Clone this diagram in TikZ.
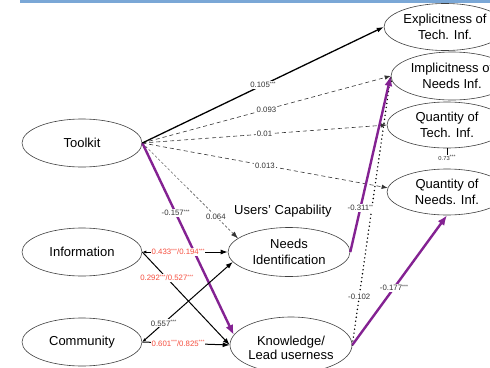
\documentclass[tikz,border=0pt]{standalone}
\usepackage{fontspec}
\setmainfont{Liberation Sans}
\usetikzlibrary{arrows.meta,shapes.geometric}
\definecolor{barblue}{RGB}{122,167,214}
\definecolor{pathpurple}{RGB}{132,34,146}
\definecolor{estred}{RGB}{246,78,62}
% significance stars, set small and raised
\newcommand\sigmark[1]{\raisebox{0.32em}{\fontsize{5}{5}\selectfont #1}}

\begin{document}
\begin{tikzpicture}[x=1pt,y=-1pt,
  latent/.style={ellipse, draw=black!75, line width=0.6pt, inner sep=0pt, align=center,
    font=\fontsize{13}{15.5}\selectfont, minimum width=120pt, minimum height=48pt},
  est/.style={fill=white, inner sep=0.8pt, font=\fontsize{7.8}{9}\selectfont, text=black!80},
  estr/.style={est, text=estred},
  solidpath/.style={line width=1pt, -{Latex[length=7pt,width=5pt]}},
  bothpath/.style={line width=1pt, {Latex[length=4pt,width=3pt]}-{Latex[length=7pt,width=5pt]}},
  dashpath/.style={line width=0.6pt, black!80, dash pattern=on 4pt off 3pt, -{Latex[length=6pt,width=4.5pt]}},
  finedash/.style={line width=0.45pt, black!80, dash pattern=on 2.5pt off 2pt, -{Latex[length=7pt,width=5pt]}},
  dotpath/.style={line width=1.6pt, line cap=round, dash pattern=on 0pt off 4pt, -{Latex[length=6pt,width=4.5pt]}},
  purplepath/.style={line width=2.4pt, draw=pathpurple, -{Latex[length=10pt,width=8pt]}},
]
\useasboundingbox (0,0) rectangle (490,367);
\clip (0,0) rectangle (490,367);
\fill[white] (0,0) rectangle (490,367);
\fill[barblue] (20,0) rectangle (490,3);

% exogenous constructs
\node[latent] (tool) at (82,143) {Toolkit};
\node[latent] (info) at (82,252) {Information};
\node[latent] (comm) at (82,342) {Community};

% users' capability
\node[font=\fontsize{13}{15.5}\selectfont] (ucap) at (283,211) {Users' Capability};
\node[latent, minimum width=122pt, minimum height=49pt] (need) at (289,252) {Needs\\Identification};
\node[latent, minimum width=122pt, minimum height=56pt] (know) at (291,345) {};
\node[align=center, font=\fontsize{13}{14.5}\selectfont] (knowlabel) at (291,348) {Knowledge/\\Lead userness};

% outcome constructs
\node[latent, minimum width=122pt, minimum height=47pt] (expl) at (445,27) {Explicitness of\\Tech. Inf.};
\node[latent, minimum width=122pt, minimum height=48pt] (impl) at (452,76) {Implicitness of\\Needs Inf.};
\node[latent, minimum width=120pt, minimum height=46pt] (qtech) at (447,125) {Quantity of\\Tech. Inf.};
\node[latent, minimum width=120pt, minimum height=46pt] (qneeds) at (447,192) {Quantity of\\Needs. Inf.};

% correlation between the two quantity constructs
\node[est, font=\fontsize{5.8}{6}\selectfont, inner sep=0.5pt] (r73) at (447,158) {0.73\sigmark{***}};
\draw[line width=0.5pt] (qtech.south) -- (r73.north);

% non-significant paths
\draw[dashpath] (tool.east) -- node[est, pos=0.5] {0.093} (impl.west);
\draw[dashpath] (tool.east) -- node[est, pos=0.5] {0.01} (qtech.west);
\draw[dashpath] (tool.east) -- node[est, pos=0.5] {0.013} (qneeds.176);
\draw[finedash] (tool.east) -- node[est, pos=0.77] {0.064} (need.165);
\draw[dotpath] (know.east) -- node[est, pos=0.18] {-0.102} (impl.west);

% toolkit to knowledge
\draw[purplepath] (tool.east) -- node[est, pos=0.365] {-0.157\sigmark{***}} (know.170);

% significant black paths
\draw[solidpath, line width=1.3pt] (tool.east) -- node[est, pos=0.5] {0.105\sigmark{***}} (expl.west);
\draw[solidpath] (info.east) -- node[estr, pos=0.28] {0.292\sigmark{***}/0.527\sigmark{***}} (know.west);
\draw[bothpath] (comm.east) -- node[est, pos=0.235] {0.557\sigmark{***}} (need.190);
\draw[bothpath] (info.east) -- node[estr, pos=0.42] {0.433\sigmark{***}/0.194\sigmark{***}} (need.west);
\draw[solidpath] (comm.east) -- node[estr, pos=0.41] {0.601\sigmark{***}/0.825\sigmark{***}} (know.west);

% significant purple paths
\draw[purplepath] (need.east) -- node[est, pos=0.25] {-0.311\sigmark{**}} (impl.west);
\draw[purplepath] (know.east) -- node[est, pos=0.44] {-0.177\sigmark{***}} (qneeds.south);
\end{tikzpicture}
\end{document}
